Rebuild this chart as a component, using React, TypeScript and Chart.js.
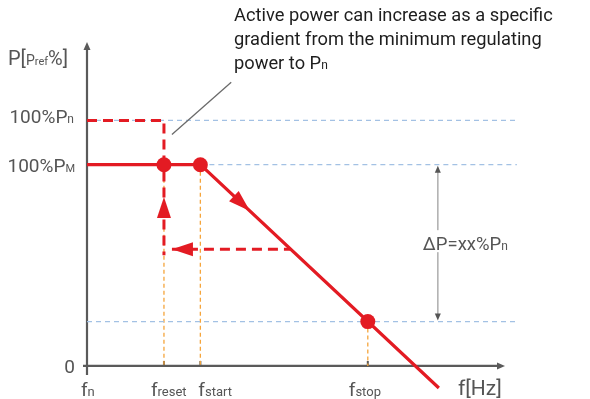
import React, { useEffect, useRef } from 'react';
import { Chart, registerables } from 'chart.js';

Chart.register(...registerables);

// ---- data (frequency axis in arbitrary units, power in % of Pref) ----
const freqLabels = ['fn', 'freset', 'fstart', 'fstop'];
const freqValues = [0, 2.22, 3.27, 8.1];
const X_MAX = 12;
const Y_MIN = -10;
const Y_MAX = 160;

const P_N = 122;   // 100%Pn
const P_M = 100;   // 100%PM
const P_LOW = 22;  // lower limit (fstop)
const P_RETURN = 58; // level of the return arrow

const curveX = [0, 3.27, 10.15];
const curveY = [100, 100, -11];

const dotX = [2.22, 3.27, 8.1];
const dotY = [100, 100, 22];

const RED = '#e31b23';
const BLUE = '#a3c1e4';
const ORANGE = '#f5a53c';
const AXIS = '#5a5a5a';
const LABEL = '#555555';
const FONT = 'Roboto, "Noto Sans", sans-serif';

type Run = [string, number, number?];

function runsWidth(ctx: CanvasRenderingContext2D, runs: Run[]) {
  let w = 0;
  for (const [t, s] of runs) {
    ctx.font = `${s}px ${FONT}`;
    w += ctx.measureText(t).width;
  }
  return w;
}

function drawRuns(ctx: CanvasRenderingContext2D, runs: Run[], x: number, y: number, align: 'left' | 'right' | 'center', color: string) {
  const w = runsWidth(ctx, runs);
  let cx = align === 'left' ? x : align === 'right' ? x - w : x - w / 2;
  ctx.fillStyle = color;
  ctx.textAlign = 'left';
  ctx.textBaseline = 'alphabetic';
  for (const [t, s, dy] of runs) {
    ctx.font = `${s}px ${FONT}`;
    ctx.fillText(t, cx, y + (dy || 0));
    cx += ctx.measureText(t).width;
  }
  return w;
}

function arrowHead(ctx: CanvasRenderingContext2D, tx: number, ty: number, angle: number, len: number, wid: number, color: string) {
  ctx.save();
  ctx.translate(tx, ty);
  ctx.rotate(angle);
  ctx.beginPath();
  ctx.moveTo(0, 0);
  ctx.lineTo(-len, -wid / 2);
  ctx.lineTo(-len, wid / 2);
  ctx.closePath();
  ctx.fillStyle = color;
  ctx.fill();
  ctx.restore();
}

const pts = (xs: number[], ys: number[]) => xs.map((x, i) => ({ x, y: ys[i] }));

const overlay = {
  id: 'overlay',
  beforeDatasetsDraw(chart: any) {
    const ctx: CanvasRenderingContext2D = chart.ctx;
    const xs = chart.scales.x;
    const ys = chart.scales.y;
    const px = (v: number) => xs.getPixelForValue(v);
    const py = (v: number) => ys.getPixelForValue(v);
    ctx.save();
    ctx.strokeStyle = AXIS;
    ctx.lineWidth = 2.2;
    ctx.beginPath();
    ctx.moveTo(px(0), py(0) + 9);
    ctx.lineTo(px(0), py(Y_MAX) + 4);
    ctx.moveTo(px(0) - 4, py(0));
    ctx.lineTo(px(X_MAX) - 4, py(0));
    ctx.stroke();
    arrowHead(ctx, px(0), py(Y_MAX) - 2, -Math.PI / 2, 8, 7, AXIS);
    arrowHead(ctx, px(X_MAX) + 2, py(0), 0, 8, 7, AXIS);
    ctx.lineWidth = 2;
    ctx.beginPath();
    for (let i = 1; i < freqValues.length; i++) {
      ctx.moveTo(px(freqValues[i]), py(0));
      ctx.lineTo(px(freqValues[i]), py(0) - 5);
    }
    ctx.stroke();
    ctx.restore();
  },
  afterDatasetsDraw(chart: any) {
    const ctx: CanvasRenderingContext2D = chart.ctx;
    const xs = chart.scales.x;
    const ys = chart.scales.y;
    const px = (v: number) => xs.getPixelForValue(v);
    const py = (v: number) => ys.getPixelForValue(v);
    ctx.save();
    // red arrows
    arrowHead(ctx, px(freqValues[1]), py(84), -Math.PI / 2, 21, 14, RED);
    arrowHead(ctx, px(2.45), py(P_RETURN), Math.PI, 21, 14, RED);
    const slope = (curveY[1] - curveY[2]) / (curveX[2] - curveX[1]);
    const ang = Math.atan2(py(curveY[2]) - py(curveY[1]), px(curveX[2]) - px(curveX[1]));
    arrowHead(ctx, px(4.7), py(100 - (4.7 - curveX[1]) * slope), ang, 22, 14, RED);

    // delta P arrow
    const dx = px(10.12);
    arrowHead(ctx, dx, py(P_M) + 1, -Math.PI / 2, 7, 6, '#555');
    arrowHead(ctx, dx, py(P_LOW) - 1, Math.PI / 2, 7, 6, '#555');
    const ty = (py(P_M) + py(P_LOW)) / 2;
    ctx.fillStyle = '#ffffff';
    ctx.fillRect(dx - 16, ty - 13, 96, 22);
    drawRuns(ctx, [['ΔP=xx%P', 18.5], ['n', 12]], dx - 15, ty + 7, 'left', LABEL);

    // y axis labels
    drawRuns(ctx, [['P[', 20], ['P', 14], ['ref', 11], ['%]', 20]], 8, 65, 'left', LABEL);
    drawRuns(ctx, [['100%P', 19], ['n', 12]], px(0) - 13, py(P_N) + 3, 'right', LABEL);
    drawRuns(ctx, [['100%P', 19], ['M', 11]], px(0) - 12, py(P_M) + 7, 'right', LABEL);
    drawRuns(ctx, [['0', 19]], px(0) - 12, py(0) + 7, 'right', LABEL);

    // f axis labels
    const bl = py(0) + 30;
    drawRuns(ctx, [['f', 19], ['n', 13]], px(0) - 6, bl, 'left', LABEL);
    drawRuns(ctx, [['f', 19], ['reset', 13]], px(freqValues[1]) - 13, bl, 'left', LABEL);
    drawRuns(ctx, [['f', 19], ['start', 13]], px(freqValues[2]) - 2, bl, 'left', LABEL);
    drawRuns(ctx, [['f', 19], ['stop', 13]], px(freqValues[3]) - 19, bl, 'left', LABEL);
    drawRuns(ctx, [['f[Hz]', 21]], px(X_MAX) - 45, bl - 1, 'left', LABEL);

    // annotation
    const ax = 234;
    const c = '#1e1e1e';
    drawRuns(ctx, [['Active power can increase as a specific', 18.3]], ax, 21, 'left', c);
    drawRuns(ctx, [['gradient from the minimum regulating', 18.3]], ax, 45, 'left', c);
    drawRuns(ctx, [['power to P', 18.3], ['n', 12]], ax, 69, 'left', c);
    ctx.restore();
  },
};

export default function App() {
  const ref = useRef<HTMLCanvasElement>(null);
  useEffect(() => {
    const canvas = ref.current!;
    const line = (data: any[], color: string, width: number, dash: number[], order: number) => ({
      type: 'scatter' as const,
      data,
      showLine: true,
      borderColor: color,
      borderWidth: width,
      borderDash: dash,
      pointRadius: 0,
      fill: false,
      clip: false as any,
      order,
    });
    const chart = new Chart(canvas, {
      type: 'scatter',
      data: {
        datasets: [
          {
            data: pts(dotX, dotY),
            pointRadius: 7.5,
            pointBackgroundColor: RED,
            pointBorderColor: RED,
            borderWidth: 0,
            clip: false as any,
            order: 0,
          } as any,
          line(pts(curveX, curveY), RED, 3.2, [], 1),
          line([{ x: 0, y: P_N }, { x: freqValues[1], y: P_N }, { x: freqValues[1], y: 55 }], RED, 3, [10, 6], 2),
          line([{ x: 2.45, y: P_RETURN }, { x: 5.86, y: P_RETURN }], RED, 3, [10, 6], 2),
          line([{ x: 0, y: P_N }, { x: 12.4, y: P_N }], BLUE, 1.3, [5, 4], 5),
          line([{ x: freqValues[2], y: P_M }, { x: 12.4, y: P_M }], BLUE, 1.3, [5, 4], 5),
          line([{ x: 0, y: P_LOW }, { x: 12.4, y: P_LOW }], BLUE, 1.3, [5, 4], 5),
          line([{ x: freqValues[1], y: P_M }, { x: freqValues[1], y: 0 }], ORANGE, 1.3, [4, 3], 6),
          line([{ x: freqValues[2], y: P_M }, { x: freqValues[2], y: 0 }], ORANGE, 1.3, [4, 3], 6),
          line([{ x: freqValues[3], y: P_LOW }, { x: freqValues[3], y: 0 }], ORANGE, 1.3, [4, 3], 6),
          line([{ x: 2.45, y: 115 }, { x: 4.16, y: 141 }], '#6a6a6a', 1.3, [], 4),
          line([{ x: 10.12, y: P_M - 2 }, { x: 10.12, y: P_LOW + 2 }], '#b3b3b3', 1.6, [], 4),
        ],
      },
      options: {
        responsive: false,
        animation: false,
        events: [],
        layout: { padding: { left: 87, right: 87, top: 44, bottom: 13 } },
        scales: {
          x: { type: 'linear', min: 0, max: X_MAX, display: false },
          y: { type: 'linear', min: Y_MIN, max: Y_MAX, display: false },
        },
        plugins: { legend: { display: false }, tooltip: { enabled: false } },
      },
      plugins: [overlay],
    });
    return () => chart.destroy();
  }, []);
  return (
    <div style={{ position: 'absolute', left: 0, top: 0, width: 590, height: 399, background: '#fff' }}>
      <canvas ref={ref} width={590} height={399} style={{ display: 'block' }} />
    </div>
  );
}
